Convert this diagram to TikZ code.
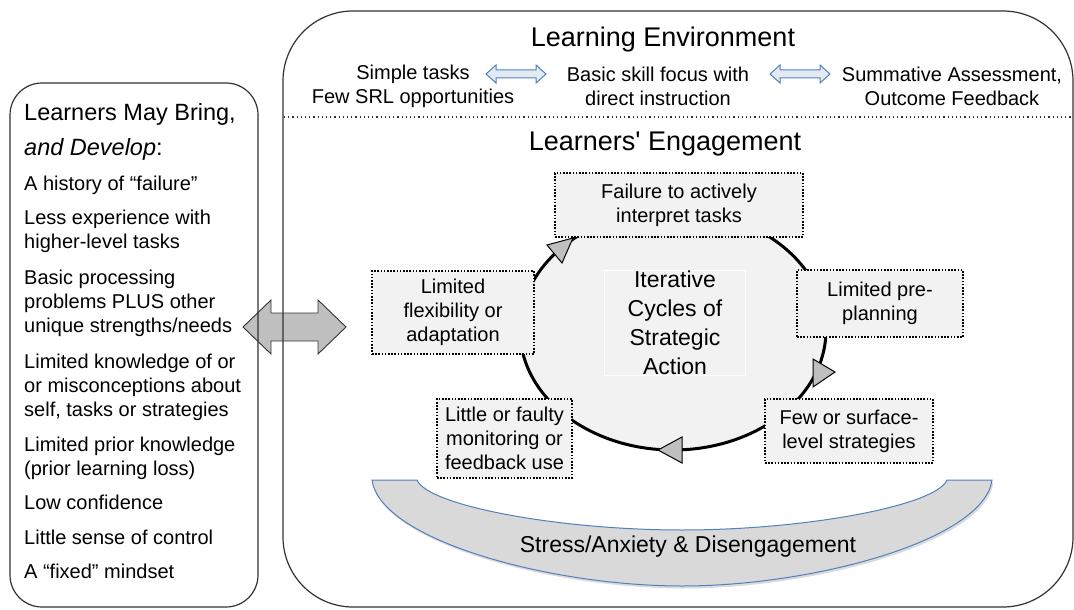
\documentclass[tikz,border=0pt]{standalone}
\usepackage{fontspec}
\setmainfont{Liberation Sans}
\definecolor{boxgray}{HTML}{F2F2F2}
\definecolor{headgray}{HTML}{BFBFBF}
\definecolor{bandgray}{HTML}{D9D9D9}
\definecolor{blueline}{HTML}{4F81BD}
\definecolor{bluefill}{HTML}{E4EAF3}
\definecolor{edgegray}{HTML}{333333}
\begin{document}
\begin{tikzpicture}[x=1pt,y=-1pt,
  lefttxt/.style={anchor=base west,inner sep=0pt,font=\fontsize{20}{24}\selectfont},
  toptxt/.style={align=center,inner sep=0pt,font=\fontsize{20}{24}\selectfont},
  headtxt/.style={anchor=base,inner sep=0pt,font=\fontsize{27}{30}\selectfont},
  cyclebox/.style={draw=black,fill=boxgray,line width=1.8pt,dash pattern=on 1.6pt off 1.6pt,
    align=center,inner sep=0pt,font=\fontsize{20}{24}\selectfont},
  headtri/.style={fill=headgray,draw=black,line width=1pt,line join=miter},
  bluearrow/.style={fill=bluefill,draw=blueline,line width=1pt},
  frame/.style={draw=edgegray,line width=1.2pt}
]
\useasboundingbox (0,0) rectangle (1074,610);

% gray double arrow between left box and environment
\path[fill=headgray,draw=edgegray,line width=0.9pt]
  (243,327) -- (271,300) -- (271,313) -- (318,313) -- (318,300) -- (346,327)
  -- (318,354) -- (318,341) -- (271,341) -- (271,354) -- cycle;

% frames
\draw[frame,rounded corners=32pt] (10,83) rectangle (258,607);
\draw[frame,rounded corners=70pt] (283,11) rectangle (1073,607);
\draw[line width=1.3pt,dash pattern=on 1.2pt off 3pt,draw=edgegray] (284,117) -- (1072,117);

% left box text
\node[lefttxt,font=\fontsize{23.5}{26}\selectfont] (lb1) at (24,120) {Learners May Bring,};
\node[lefttxt,font=\fontsize{23.5}{26}\selectfont] (lb2) at (24,155) {\textit{and Develop}:};
\node[lefttxt] (l1) at (24,190) {A history of “failure”};
\node[lefttxt] (l2a) at (24,224) {Less experience with};
\node[lefttxt] (l2b) at (24,248) {higher-level tasks};
\node[lefttxt] (l3a) at (24,284) {Basic processing};
\node[lefttxt] (l3b) at (24,308) {problems PLUS other};
\node[lefttxt] (l3c) at (24,332) {unique strengths/needs};
\node[lefttxt] (l4a) at (24,368) {Limited knowledge of or};
\node[lefttxt] (l4b) at (24,392) {or misconceptions about};
\node[lefttxt] (l4c) at (24,416) {self, tasks or strategies};
\node[lefttxt] (l5a) at (24,451) {Limited prior knowledge};
\node[lefttxt] (l5b) at (24,475) {(prior learning loss)};
\node[lefttxt] (l6) at (24,509) {Low confidence};
\node[lefttxt] (l7) at (24,544) {Little sense of control};
\node[lefttxt] (l8) at (24,578) {A “fixed” mindset};

% learning environment
\node[headtxt] (env) at (663,47) {Learning Environment};
\node[toptxt] (e1) at (413,86) {Simple tasks\\Few SRL opportunities};
\node[toptxt] (e2) at (658,86) {Basic skill focus with\\direct instruction};
\node[toptxt] (e3) at (952,86) {Summative Assessment,\\Outcome Feedback};
\path[bluearrow] (486,74) -- (496,65) -- (496,70) -- (536,70) -- (536,65) -- (546,74)
  -- (536,83) -- (536,78) -- (496,78) -- (496,83) -- cycle;
\path[bluearrow] (770,74) -- (780,65) -- (780,70) -- (820,70) -- (820,65) -- (830,74)
  -- (820,83) -- (820,78) -- (780,78) -- (780,83) -- cycle;

% engagement
\node[headtxt] (eng) at (665,150) {Learners\textquotesingle\ Engagement};

% cycle
\fill[boxgray] (673,330) ellipse [x radius=153pt, y radius=120pt];
\draw[line width=3pt] (673,330) ellipse [x radius=153pt, y radius=120pt];
\node[draw=white,line width=0.8pt,fill=boxgray,minimum width=141pt,minimum height=105pt,
  align=center,inner sep=0pt,font=\fontsize{23}{29}\selectfont] (iter) at (675,323)
  {Iterative\\Cycles of\\Strategic\\Action};

\path[headtri] (573,238) -- (547,245) -- (562,263) -- cycle;
\path[headtri] (835,372) -- (813,359) -- (813,387) -- cycle;
\path[headtri] (658,450) -- (682,437) -- (682,463) -- cycle;

\node[cyclebox,minimum width=248pt,minimum height=64pt] (c1) at (679,205) {Failure to actively\\interpret tasks};
\node[cyclebox,minimum width=166pt,minimum height=67pt] (c2) at (880,303.5) {Limited pre-\\planning};
\node[cyclebox,minimum width=168pt,minimum height=64pt] (c3) at (849,431) {Few or surface-\\level strategies};
\node[cyclebox,minimum width=135pt,minimum height=79pt] (c4) at (504.5,438.5) {Little or faulty\\monitoring or\\feedback use};
\node[cyclebox,minimum width=162pt,minimum height=83pt] (c5) at (453,312.5) {Limited\\flexibility or\\adaptation};

% stress band (with faint shadow)
\path[fill=black!14,shift={(1.5,2.5)}]
  (372,480) -- (417,480)
  .. controls (428,506) and (560,530) .. (682,530)
  .. controls (804,530) and (936,506) .. (947,480)
  -- (992,480)
  .. controls (984,540) and (814,586) .. (682,586)
  .. controls (550,586) and (380,540) .. (372,480) -- cycle;
\path[fill=bandgray,draw=blueline,line width=1pt]
  (372,480) -- (417,480)
  .. controls (428,506) and (560,530) .. (682,530)
  .. controls (804,530) and (936,506) .. (947,480)
  -- (992,480)
  .. controls (984,540) and (814,586) .. (682,586)
  .. controls (550,586) and (380,540) .. (372,480) -- cycle;
\node[anchor=base,inner sep=0pt,font=\fontsize{23}{26}\selectfont] (stress) at (688,552) {Stress/Anxiety \& Disengagement};
\end{tikzpicture}
\end{document}
